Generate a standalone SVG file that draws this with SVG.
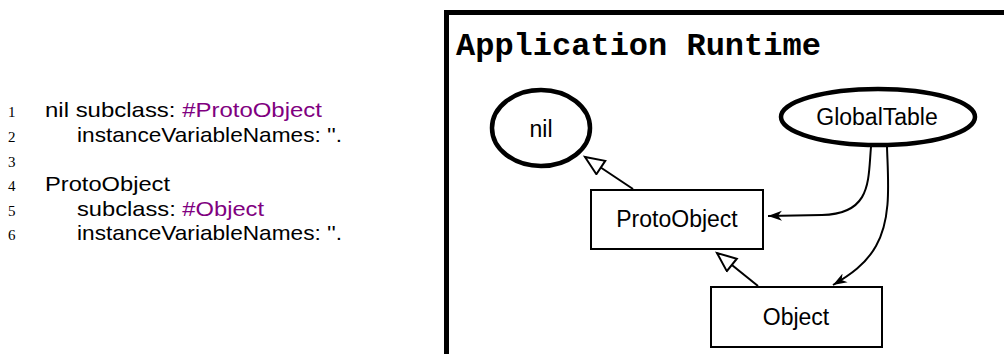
<svg xmlns="http://www.w3.org/2000/svg" width="1004" height="354" viewBox="0 0 1004 354">
<style>
.code{font-family:"Liberation Sans",Arial,sans-serif;font-size:21px;fill:#000}
.kw{fill:#800080}
.ln{font-family:"Liberation Serif","Times New Roman",serif;font-size:15px;fill:#000}
.lbl{font-family:"Liberation Sans",Arial,sans-serif;font-size:23px;fill:#000;text-anchor:middle}
.title{font-family:"Liberation Mono","Courier New",monospace;font-weight:bold;font-size:32px;fill:#000}
.ell{fill:#fff;stroke:#000;stroke-width:4.5}
.box{fill:#fff;stroke:#000;stroke-width:2}
.edge{fill:none;stroke:#000;stroke-width:2}
</style>
<defs>
<marker id="tri" markerWidth="24" markerHeight="20" refX="21" refY="9" orient="auto" markerUnits="userSpaceOnUse"><path d="M2,1 L21,9 L2,17 z" fill="#fff" stroke="#000" stroke-width="2"/></marker>
<marker id="vee" markerWidth="16" markerHeight="12" refX="14" refY="6" orient="auto" markerUnits="userSpaceOnUse"><path d="M0,1 L14,6 L0,11 L4,6 z" fill="#000"/></marker>
</defs>
<rect width="1004" height="354" fill="#fff"/>
<g id="code">
<text class="ln" x="8" y="117">1</text>
<text class="code" x="45" y="117" textLength="277" lengthAdjust="spacingAndGlyphs">nil subclass: <tspan class="kw">#ProtoObject</tspan></text>
<text class="ln" x="8" y="142">2</text>
<text class="code" x="77" y="142" textLength="265" lengthAdjust="spacingAndGlyphs">instanceVariableNames: ''.</text>
<text class="ln" x="8" y="167">3</text>
<text class="ln" x="8" y="191">4</text>
<text class="code" x="45" y="191" textLength="125" lengthAdjust="spacingAndGlyphs">ProtoObject</text>
<text class="ln" x="8" y="216">5</text>
<text class="code" x="77" y="216" textLength="187" lengthAdjust="spacingAndGlyphs">subclass: <tspan class="kw">#Object</tspan></text>
<text class="ln" x="8" y="240">6</text>
<text class="code" x="77" y="240" textLength="265" lengthAdjust="spacingAndGlyphs">instanceVariableNames: ''.</text>
</g>
<g id="frame">
<rect x="446.5" y="12.5" width="600" height="400" fill="none" stroke="#000" stroke-width="5"/>
<text class="title" x="456" y="55">Application Runtime</text>
</g>
<g id="connectors">
<line class="edge" x1="633" y1="189" x2="585" y2="157" marker-end="url(#tri)"/>
<line class="edge" x1="758" y1="286" x2="717" y2="253" marker-end="url(#tri)"/>
<path class="edge" d="M871,147 C868,180 872,214 822,215 L768,216" marker-end="url(#vee)"/>
<path class="edge" d="M887,147 C888,180 892,218 876,246 C866,264 850,275 833,285" marker-end="url(#vee)"/>
</g>
<g id="nil">
<ellipse class="ell" cx="541" cy="128" rx="49" ry="38"/>
<text class="lbl" x="541" y="137">nil</text>
</g>
<g id="globaltable">
<ellipse class="ell" cx="878" cy="117" rx="97" ry="28"/>
<text class="lbl" x="877" y="125">GlobalTable</text>
</g>
<g id="protoobject">
<rect class="box" x="591" y="190" width="172" height="59"/>
<text class="lbl" x="677" y="227">ProtoObject</text>
</g>
<g id="object">
<rect class="box" x="711" y="287" width="171" height="60"/>
<text class="lbl" x="796" y="325">Object</text>
</g>
</svg>
